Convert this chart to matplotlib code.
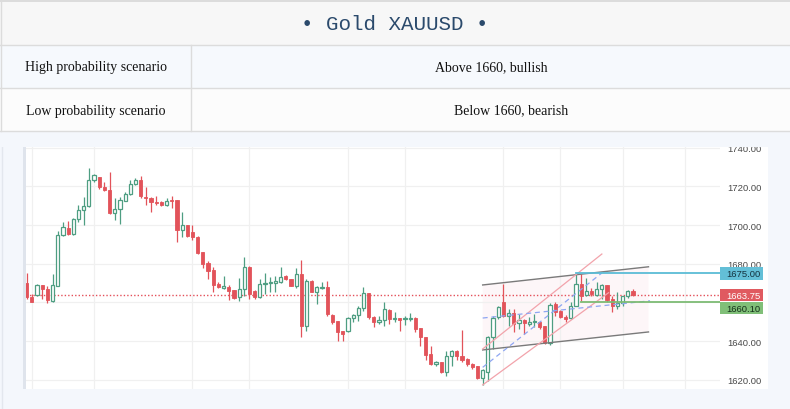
import matplotlib
matplotlib.use("Agg")
import matplotlib.pyplot as plt
import matplotlib.transforms as mtransforms
from matplotlib.patches import Rectangle, Polygon
import numpy as np

# ---- data ----
title = "• Gold XAUUSD •"
scenario_names = ["High probability scenario", "Low probability scenario"]
scenario_views = ["Above 1660, bullish", "Below 1660, bearish"]

opens = [1669.9, 1662.9, 1663.8, 1668.9, 1666.9, 1660.8, 1668.6, 1694.8, 1698.4, 1695.1,
         1702.9, 1707.9, 1709.6, 1723.2, 1725.0, 1719.6, 1718.2, 1706.4, 1708.3, 1712.6,
         1716.0, 1721.0, 1723.4, 1714.6, 1714.0, 1712.1, 1711.7, 1710.3, 1712.9, 1712.9,
         1697.6, 1700.0, 1696.2, 1694.0, 1685.8, 1680.3, 1676.9, 1669.5, 1667.6, 1667.9,
         1666.4, 1662.6, 1666.9, 1678.1, 1666.0, 1662.9, 1669.5, 1669.8, 1670.2, 1670.3,
         1673.4, 1672.1, 1668.6, 1674.7, 1647.9, 1671.2, 1665.5, 1667.6, 1668.1, 1653.6,
         1650.3, 1645.2, 1645.4, 1651.7, 1653.4, 1656.9, 1664.8, 1652.2, 1650.0, 1651.0,
         1656.2, 1651.4, 1651.7, 1651.4, 1651.4, 1651.7, 1646.6, 1641.9, 1633.3, 1628.3,
         1629.0, 1624.2, 1632.1, 1634.7, 1632.4, 1630.7, 1628.1, 1626.9, 1620.9, 1623.8,
         1641.9, 1652.2, 1660.0, 1653.1, 1654.5, 1649.3, 1651.0, 1649.0, 1649.7, 1650.0,
         1647.6, 1639.0, 1659.1, 1655.7, 1652.2, 1651.7, 1658.3, 1669.5, 1664.0, 1666.0,
         1664.0, 1666.9, 1669.0, 1661.7, 1657.9, 1659.7, 1663.1, 1666.0]
highs = [1675.1, 1664.3, 1669.3, 1668.9, 1668.6, 1674.5, 1696.9, 1701.4, 1702.2, 1703.4,
         1710.3, 1714.3, 1729.3, 1726.5, 1725.0, 1722.0, 1727.6, 1713.8, 1714.3, 1716.9,
         1723.4, 1724.1, 1725.5, 1719.5, 1714.3, 1714.8, 1712.4, 1713.8, 1714.8, 1712.9,
         1706.9, 1700.0, 1700.0, 1694.5, 1686.2, 1681.5, 1678.1, 1670.3, 1673.4, 1669.0,
         1666.4, 1672.8, 1683.3, 1678.6, 1666.4, 1672.1, 1675.0, 1672.9, 1673.8, 1678.1,
         1674.1, 1672.1, 1677.6, 1682.1, 1672.1, 1671.7, 1668.6, 1670.3, 1671.2, 1654.0,
         1650.5, 1645.2, 1652.2, 1654.0, 1658.3, 1667.8, 1664.8, 1653.1, 1653.1, 1660.0,
         1656.6, 1655.2, 1651.7, 1653.1, 1654.5, 1652.2, 1646.9, 1641.9, 1637.2, 1629.8,
         1629.3, 1635.0, 1635.5, 1635.5, 1645.7, 1631.0, 1628.5, 1627.2, 1625.5, 1642.8,
         1653.1, 1657.9, 1669.5, 1656.6, 1656.6, 1654.0, 1651.4, 1652.2, 1654.0, 1650.5,
         1647.9, 1659.7, 1660.0, 1656.2, 1653.4, 1660.0, 1675.2, 1674.7, 1672.4, 1667.2,
         1670.3, 1669.5, 1669.0, 1663.5, 1665.5, 1663.5, 1666.6, 1666.9]
lows = [1661.7, 1660.0, 1663.4, 1662.0, 1659.6, 1660.3, 1668.6, 1694.4, 1694.8, 1694.8,
        1701.4, 1700.1, 1709.1, 1722.4, 1718.6, 1717.4, 1705.7, 1702.7, 1700.3, 1712.6,
        1715.5, 1720.7, 1713.8, 1710.3, 1706.9, 1710.3, 1709.6, 1709.6, 1708.6, 1691.0,
        1693.6, 1693.6, 1692.4, 1685.0, 1677.6, 1672.1, 1665.5, 1667.2, 1666.9, 1661.4,
        1661.7, 1660.9, 1663.4, 1661.7, 1661.7, 1662.1, 1664.5, 1665.2, 1665.2, 1669.8,
        1671.7, 1668.3, 1667.2, 1642.3, 1645.4, 1665.2, 1659.1, 1666.9, 1653.1, 1648.8,
        1640.2, 1640.2, 1644.5, 1650.0, 1650.5, 1655.7, 1651.4, 1647.1, 1648.8, 1648.0,
        1648.8, 1649.6, 1645.3, 1648.3, 1650.5, 1644.8, 1637.2, 1630.4, 1627.6, 1627.2,
        1623.5, 1621.7, 1627.2, 1630.4, 1629.0, 1627.2, 1625.5, 1620.4, 1617.3, 1619.5,
        1635.9, 1651.4, 1652.2, 1647.9, 1644.5, 1646.2, 1643.6, 1648.0, 1647.1, 1646.2,
        1638.5, 1638.1, 1653.1, 1651.7, 1650.0, 1651.4, 1657.9, 1660.9, 1663.5, 1663.5,
        1663.5, 1661.7, 1660.0, 1654.8, 1656.6, 1657.9, 1662.1, 1663.5]
closes = [1662.9, 1660.3, 1668.9, 1666.9, 1661.3, 1668.9, 1694.8, 1698.8, 1695.1, 1702.9,
          1707.9, 1709.6, 1723.2, 1726.0, 1719.6, 1718.1, 1706.4, 1708.3, 1712.9, 1716.0,
          1721.2, 1723.1, 1714.8, 1713.8, 1711.7, 1711.4, 1710.5, 1712.6, 1712.4, 1697.6,
          1700.0, 1694.5, 1693.6, 1685.5, 1679.8, 1676.4, 1669.0, 1667.8, 1668.3, 1666.0,
          1662.2, 1666.9, 1678.1, 1664.3, 1662.9, 1669.5, 1670.2, 1670.3, 1670.8, 1672.9,
          1672.1, 1668.6, 1674.7, 1647.9, 1671.2, 1665.5, 1667.8, 1667.9, 1654.0, 1650.0,
          1644.8, 1643.5, 1651.7, 1653.4, 1656.9, 1664.8, 1652.2, 1650.0, 1651.0, 1656.5,
          1651.4, 1651.7, 1651.0, 1651.7, 1651.7, 1646.2, 1642.2, 1632.8, 1628.1, 1629.0,
          1624.2, 1632.1, 1634.7, 1632.4, 1630.0, 1628.1, 1626.7, 1620.9, 1625.0, 1641.9,
          1651.7, 1657.4, 1653.1, 1654.3, 1648.8, 1651.0, 1649.3, 1649.7, 1650.0, 1647.4,
          1639.0, 1658.6, 1655.2, 1652.6, 1651.4, 1658.3, 1669.5, 1663.5, 1666.0, 1664.3,
          1666.9, 1669.0, 1661.4, 1657.9, 1659.7, 1663.1, 1666.0, 1663.75]

y_ticks = [1620, 1640, 1660, 1680, 1700, 1720, 1740]
x_grid = [1, 13, 32, 43, 62, 73, 92, 103, 115, 127]

resistance = 1675.00
support = 1660.10
last_price = 1663.75

# drawings: (bar index, price) end points
channel_top = [(88, 1669.0), (120, 1678.4)]
channel_bottom = [(88, 1635.4), (120, 1644.7)]
red_upper = [(88, 1635.9), (111, 1685.0)]
red_lower = [(88, 1617.3), (112.3, 1665.0)]
blue_flat = [(88, 1651.9), (120.3, 1660.8)]
blue_steep = [(88, 1626.4), (111, 1675.2)]
resistance_from = 106
support_from = 107

# ---- figure ----
W, H = 790, 410
BG = "#f4f7fc"
UP = "#4e9e82"
DOWN = "#e2535a"

fig = plt.figure(figsize=(W / 100, H / 100), dpi=100, facecolor=BG)


def fy(py):
    return 1 - py / H


# white chart panel and the grey strip at its left side
fig.patches.append(Rectangle((23 / W, fy(390)), (768 - 23) / W, (390 - 147.7) / H,
                             transform=fig.transFigure, facecolor="white",
                             edgecolor="none", zorder=-2))
fig.patches.append(Rectangle((22.7 / W, fy(390)), 3.3 / W, (390 - 147.7) / H,
                             transform=fig.transFigure, facecolor="#dfe4ec",
                             edgecolor="none", zorder=-1))
fig.lines.append(plt.Line2D([1.5 / W, 1.5 / W], [0, fy(132)], transform=fig.transFigure,
                            color="#e3e7ee", lw=1))

ax = fig.add_axes([26 / W, fy(390), (720 - 26) / W, (390 - 147.7) / H])
ax.set_facecolor("white")

n = len(opens)
x = np.arange(n)
o = np.array(opens)
h = np.array(highs)
l = np.array(lows)
c = np.array(closes)
up = c >= o

# trend channel tint
poly = Polygon([channel_top[0], channel_top[1], channel_bottom[1], channel_bottom[0]],
               closed=True, facecolor="#fdf6f8", edgecolor="none", zorder=0.5)
ax.add_patch(poly)

# candles
ax.vlines(x[up], l[up], h[up], color=UP, lw=0.9, zorder=2)
ax.vlines(x[~up], l[~up], h[~up], color=DOWN, lw=0.9, zorder=2)
body_lo = np.minimum(o, c)
body_h = np.maximum(np.abs(c - o), 0.45)
ax.bar(x[up], body_h[up], bottom=body_lo[up], width=0.62, facecolor="white",
       edgecolor=UP, linewidth=0.9, zorder=3)
ax.bar(x[~up], body_h[~up], bottom=body_lo[~up], width=0.62, facecolor=DOWN,
       edgecolor=DOWN, linewidth=0.6, zorder=3)

# drawings
for seg in (channel_top, channel_bottom):
    ax.plot([p[0] for p in seg], [p[1] for p in seg], color="#7a7a7a", lw=1, zorder=4)
for seg in (red_upper, red_lower):
    ax.plot([p[0] for p in seg], [p[1] for p in seg], color="#f2a3ab", lw=0.9, zorder=4)
for seg in (blue_flat, blue_steep):
    ax.plot([p[0] for p in seg], [p[1] for p in seg], color="#8ea6f2", lw=0.9,
            dashes=(4, 3), zorder=4)

xmin, xmax = -0.13, 133.8
ax.plot([xmin, xmax], [last_price, last_price], color="#e4505a", lw=1.0,
        linestyle=(0, (1, 1.5)), zorder=1)
ax.plot([resistance_from, xmax], [resistance, resistance], color="#5bbcd6", lw=1.3, zorder=4)
ax.plot([support_from, xmax], [support, support], color="#7dbb74", lw=1.3, zorder=4)

ax.set_xlim(xmin, xmax)
ax.set_ylim(1615.2, 1740.5)
ax.set_xticks(x_grid)
ax.set_yticks(y_ticks)
ax.set_yticklabels(["%.2f" % v if v != 1660 else "" for v in y_ticks])
ax.yaxis.tick_right()
ax.tick_params(axis="x", length=0, labelbottom=False)
ax.tick_params(axis="y", length=0, pad=5, labelsize=6.8, labelcolor="#4a4a4a")
for lab in ax.get_yticklabels():
    lab.set_family("Liberation Sans")
ax.grid(color="#f0f0f0", lw=0.9)
ax.set_axisbelow(True)
for s in ax.spines.values():
    s.set_visible(False)

# price boxes on the scale (stacked so they do not overlap, as the platform does)
trans = mtransforms.blended_transform_factory(ax.transAxes, ax.transData)
px_per_unit = (390 - 147.7) / (1740.5 - 1615.2)
box_h = 12.5 / px_per_unit
box_x0 = 1.0
box_w = 43 / (720 - 26)
box_pos = {resistance: resistance, last_price: last_price,
           support: min(support, last_price - box_h - 0.5 / px_per_unit)}
for val, fc, tc in [(resistance, "#63bfd7", "#14323f"),
                    (last_price, "#e05a60", "white"),
                    (support, "#80bf78", "#14301a")]:
    yc = box_pos[val]
    ax.add_patch(Rectangle((box_x0, yc - box_h / 2), box_w, box_h, transform=trans,
                           facecolor=fc, edgecolor="none", clip_on=False, zorder=6))
    ax.text(box_x0 + 6.5 / (720 - 26), yc, "%.2f" % val, transform=trans, ha="left",
            va="center", fontsize=6.8, color=tc, family="Liberation Sans",
            clip_on=False, zorder=7)

# ---- header table ----
top = fig.add_axes([0, fy(147.7), 1, 147.7 / H])
top.set_zorder(5)
top.set_xlim(0, W)
top.set_ylim(147.7, 0)
for s in top.spines.values():
    s.set_visible(False)
top.set_xticks([])
top.set_yticks([])
top.add_patch(Rectangle((0, 0), W, 147.7, facecolor=BG, edgecolor="none"))
top.add_patch(Rectangle((0, 0), W, 3, facecolor="#dcdcdc", edgecolor="none"))
top.add_patch(Rectangle((0, 3), W, 43, facecolor="#f7f7f7", edgecolor="none"))
top.add_patch(Rectangle((0, 46), W, 43, facecolor="#f6f9fd", edgecolor="none"))
top.add_patch(Rectangle((0, 89), W, 43, facecolor="#fcfcfc", edgecolor="none"))
for yy in (46, 89, 132):
    top.plot([0, W], [yy, yy], color="#dcdcdc", lw=1)
top.plot([191, 191], [46, 132], color="#dcdcdc", lw=1)
top.plot([0.5, 0.5], [3, 132], color="#dcdcdc", lw=1)

top.text(395, 24, title, ha="center", va="center", fontsize=15,
         family="Liberation Mono", color="#2b4a6c")
for i, (name, view) in enumerate(zip(scenario_names, scenario_views)):
    yy = 68 + 43 * i
    top.text(96, yy, name, ha="center", va="center", fontsize=10,
             family="Liberation Serif", color="#111111")
    top.text(491 + 20 * i, yy, view, ha="center", va="center", fontsize=10,
             family="Liberation Serif", color="#111111")

fig.savefig("out.png", dpi=100, facecolor=BG)
